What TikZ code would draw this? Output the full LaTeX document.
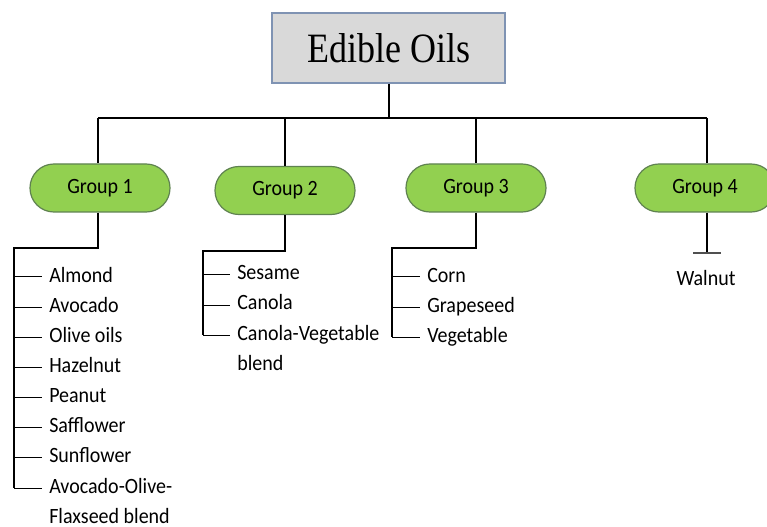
\documentclass[tikz,border=0pt]{standalone}
\usepackage{fontspec}
\setmainfont{Carlito}
\newfontfamily\titlefont{Liberation Serif}
\definecolor{boxgray}{HTML}{D9D9D9}
\definecolor{boxblue}{HTML}{7F93B3}
\definecolor{pillgreen}{HTML}{92D050}
\definecolor{pillborder}{HTML}{5F8250}
\definecolor{tgray}{HTML}{505050}
\newcommand\tallA[1]{\scalebox{1}[1.09]{#1}}
\newcommand\tallB[1]{\scalebox{1}[1.16]{#1}}
\begin{document}
\begin{tikzpicture}[x=0.75pt,y=-0.75pt,
  mainline/.style={line width=1.5pt, black},
  tickline/.style={line width=0.75pt, black},
  titlebox/.style={draw=boxblue, fill=boxgray, line width=1pt, minimum width=174.75pt, minimum height=52.5pt, font=\titlefont\fontsize{27}{32}\selectfont},
  pill/.style={draw=pillborder, fill=pillgreen, line width=0.9pt, rounded corners=17.9pt, minimum width=105pt, minimum height=36pt, font=\fontsize{15}{18}\selectfont},
  item/.style={anchor=west, inner xsep=5.25pt, inner ysep=0pt, font=\fontsize{15}{18}\selectfont, text height=10.5pt, text depth=3pt},
  plain/.style={anchor=west, inner xsep=0pt, inner ysep=0pt, font=\fontsize{15}{18}\selectfont, text height=10.5pt, text depth=3pt}
]
\useasboundingbox (0,0) rectangle (767,527);
\fill[white] (0,0) rectangle (767,527);

% title
\node[titlebox] (title) at (388.5,48) {\tallB{Edible Oils}};

% bus coordinates
\coordinate (bus) at (388.5,118);
\coordinate (b1) at (98,118);
\coordinate (b2) at (285,118);
\coordinate (b3) at (476,118);
\coordinate (b4) at (707,118);

% groups
\node[pill] (g1) at (100,188) {\tallA{Group 1}};
\node[pill] (g2) at (285,190.5) {\tallA{Group 2}};
\node[pill] (g3) at (476,188) {\tallA{Group 3}};
\node[pill] (g4) at (705,188) {\tallA{Group 4}};

\draw[mainline] (title.south) -- (bus);
\draw[mainline] (b1) -- (b4);
\draw[mainline] (b1) -- (b1 |- g1.north);
\draw[mainline] (b2) -- (g2.north);
\draw[mainline] (b3) -- (g3.north);
\draw[mainline] (b4) -- (b4 |- g4.north);

% group 1 items
\node[item] (a1) at (42,277) {\tallA{Almond}};
\node[item] (a2) at (42,307) {\tallA{Avocado}};
\node[item] (a3) at (42,337) {\tallA{Olive oils}};
\node[item] (a4) at (42,367) {\tallA{Hazelnut}};
\node[item] (a5) at (42,397) {\tallA{Peanut}};
\node[item] (a6) at (42,427) {\tallA{Safflower}};
\node[item] (a7) at (42,457) {\tallA{Sunflower}};
\node[item] (a8) at (42,488) {\tallA{Avocado-Olive-}};
\node[plain] (a8b) at (a8.west |- 0,518) [xshift=5.25pt] {\tallA{Flaxseed blend}};

\coordinate (s1a) at (98,248);
\coordinate (s1b) at (14,248);
\coordinate (s1c) at (14,488);
\draw[mainline] (b1 |- g1.south) -- (s1a) -- (s1b) -- (s1c);
\foreach \i in {1,...,8} \draw[tickline] (14,0 |- a\i.west) -- (a\i.west);

% group 2 items
\node[item] (c1) at (230,275) {\tallA{Sesame}};
\node[item] (c2) at (230,305) {\tallA{Canola}};
\node[item] (c3) at (230,335) {\tallA{Canola-Vegetable}};
\node[plain] (c3b) at (c3.west |- 0,365) [xshift=5.25pt] {\tallA{blend}};

\coordinate (s2a) at (285,251);
\coordinate (s2b) at (203,251);
\coordinate (s2c) at (203,335);
\draw[mainline] (g2.south) -- (s2a) -- (s2b) -- (s2c);
\foreach \i in {1,2,3} \draw[tickline] (203,0 |- c\i.west) -- (c\i.west);

% group 3 items
\node[item] (d1) at (420,277) {\tallA{Corn}};
\node[item] (d2) at (420,307) {\tallA{Grapeseed}};
\node[item] (d3) at (420,337) {\tallA{Vegetable}};

\coordinate (s3a) at (476,248);
\coordinate (s3b) at (392,248);
\coordinate (s3c) at (392,337);
\draw[mainline] (g3.south) -- (s3a) -- (s3b) -- (s3c);
\foreach \i in {1,2,3} \draw[tickline] (392,0 |- d\i.west) -- (d\i.west);

% group 4
\coordinate (t4) at (707,253);
\draw[mainline] (b4 |- g4.south) -- (t4);
\draw[line width=1.2pt, tgray] ([xshift=-10.5pt]t4) -- ([xshift=10.5pt]t4);
\node[font=\fontsize{15}{18}\selectfont, inner sep=0pt, text height=10.5pt, text depth=3pt] (walnut) at (706,281) {\tallA{Walnut}};
\end{tikzpicture}
\end{document}
